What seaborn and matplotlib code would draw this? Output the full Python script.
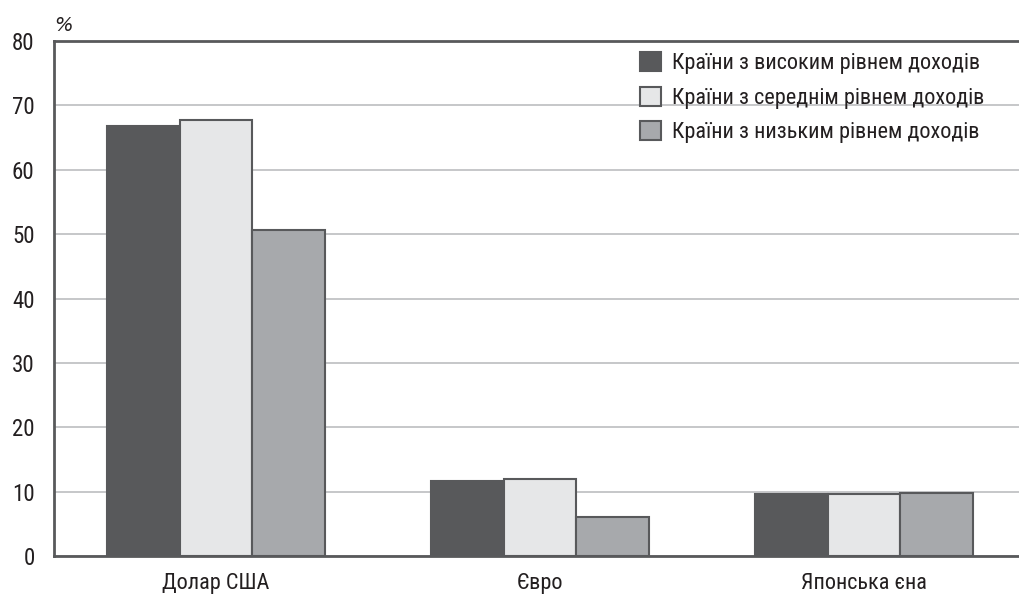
import matplotlib
matplotlib.use("Agg")
import matplotlib.pyplot as plt
import seaborn as sns
import pandas as pd
from matplotlib.ticker import FixedLocator

currencies = ["Долар США", "Євро", "Японська єна"]
groups = [
    "Країни з високим рівнем доходів",
    "Країни з середнім рівнем доходів",
    "Країни з низьким рівнем доходів",
]
high_income = [66.8, 11.6, 9.7]
middle_income = [67.7, 12.0, 9.6]
low_income = [50.7, 6.0, 9.8]
y_ticks = [0, 10, 20, 30, 40, 50, 60, 70, 80]

colors = ["#58595b", "#e6e7e8", "#a7a9ac"]
edge = "#58595b"

rows = []
for grp, vals in zip(groups, [high_income, middle_income, low_income]):
    for cur, v in zip(currencies, vals):
        rows.append({"currency": cur, "group": grp, "value": v})
df = pd.DataFrame(rows)

sns.set_style("white")
plt.rcParams["font.family"] = ["Roboto Condensed", "Roboto", "DejaVu Sans"]

fig = plt.figure(figsize=(10.2, 5.99), dpi=100)
ax = fig.add_axes([54 / 1020, 43 / 599, 972 / 1020, 515 / 599])

sns.barplot(
    data=df, x="currency", y="value", hue="group",
    order=currencies, hue_order=groups, palette=colors,
    width=0.67, edgecolor=edge, linewidth=1.5, saturation=1,
    ax=ax, zorder=3,
)

ax.set_xlim(-0.5, 2.5)
ax.set_ylim(0, 80)
ax.set_yticks(y_ticks)
ax.yaxis.grid(True, color="#bcbec0", linewidth=1.2, zorder=0)
ax.set_axisbelow(True)
ax.set_xlabel("")
ax.set_ylabel("")

for side in ["left", "bottom", "top"]:
    ax.spines[side].set_color("#58595b")
    ax.spines[side].set_linewidth(2)
ax.spines["right"].set_visible(False)

ax.tick_params(axis="y", direction="out", length=8, width=1.5, color="#58595b",
               labelsize=16.5, labelcolor="#231f20", pad=6)
ax.tick_params(axis="x", which="major", length=0, labelsize=16,
               labelcolor="#231f20", pad=12)
ax.xaxis.set_minor_locator(FixedLocator([-0.5, 0.5, 1.5, 2.5]))
ax.tick_params(axis="x", which="minor", direction="out", length=9, width=1,
               color="#58595b")

ax.text(0.0, 1.012, "%", transform=ax.transAxes, fontsize=14,
        style="oblique", family="DejaVu Sans",
        color="#231f20", ha="left", va="bottom")

leg = ax.legend(
    loc="upper right", bbox_to_anchor=(0.978, 1.017), frameon=False,
    fontsize=16, handlelength=0.95, handleheight=0.95, handletextpad=0.5,
    labelspacing=0.55,
)
for h in leg.legend_handles:
    h.set_edgecolor(edge)
    h.set_linewidth(1.5)
for t in leg.get_texts():
    t.set_color("#231f20")

fig.savefig("out.png", dpi=100)
